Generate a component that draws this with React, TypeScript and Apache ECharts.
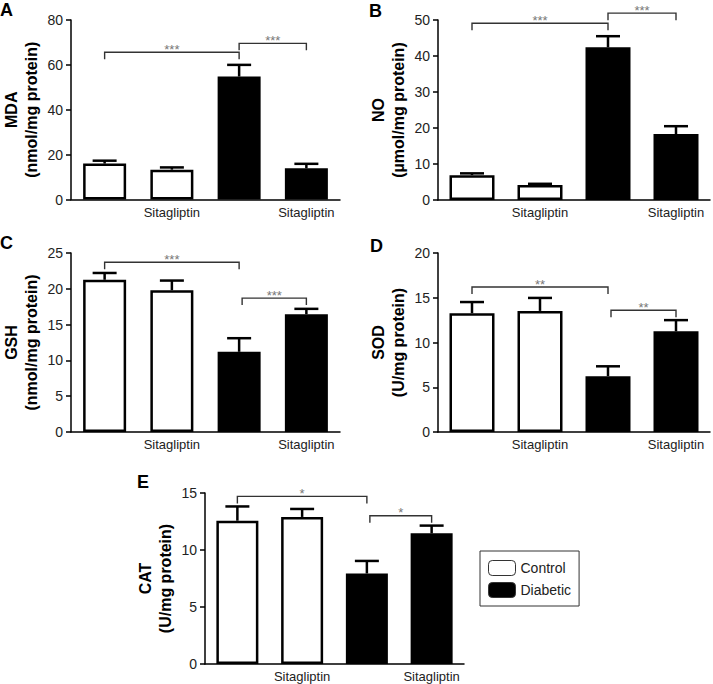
import React, { useEffect, useRef } from "react";
import * as echarts from "echarts";

// ---------- data ----------
const categories = ["", "Sitagliptin", "", "Sitagliptin"];
const groupNames = ["Control", "Diabetic"];
// which categories belong to each group
const controlIdx = [0, 1];
const diabeticIdx = [2, 3];

const mdaMean = [16.0, 13.3, 54.8, 13.9];
const mdaErr = [1.3, 1.0, 5.2, 2.0];
const noMean = [6.9, 4.2, 42.4, 18.3];
const noErr = [0.5, 0.3, 3.1, 2.2];
const gshMean = [21.26, 19.8, 11.2, 16.45];
const gshErr = [0.95, 1.35, 1.9, 0.75];
const sodMean = [13.27, 13.53, 6.24, 11.25];
const sodErr = [1.25, 1.45, 1.1, 1.25];
const catMean = [12.57, 12.9, 7.94, 11.46];
const catErr = [1.25, 0.7, 1.1, 0.68];

// significance brackets: [fromCategory, toCategory, bracketTopValue]
const mdaBrackets = [[0, 2, 65.6], [2, 3, 69.6]];
const mdaStars = ["***", "***"];
const noBrackets = [[0, 2, 49.1], [2, 3, 51.9]];
const noStars = ["***", "***"];
const gshBrackets = [[0, 2, 23.7], [2, 3, 18.7]];
const gshStars = ["***", "***"];
const sodBrackets = [[0, 2, 16.2], [2, 3, 13.6]];
const sodStars = ["**", "**"];
const catBrackets = [[0, 2, 14.7], [2, 3, 13.0]];
const catStars = ["*", "*"];

const panelLetters = ["A", "B", "C", "D", "E"];
const yTitles = [
  "MDA\n(nmol/mg protein)",
  "NO\n(µmol/mg protein)",
  "GSH\n(nmol/mg protein)",
  "SOD\n(U/mg protein)",
  "CAT\n(U/mg protein)",
];
const yMax = [80, 50, 25, 20, 15];
const yStep = [20, 10, 5, 5, 5];

// ---------- layout / style ----------
const FONT = "'Liberation Sans', Arial, Helvetica, sans-serif";
const grids = [
  { left: 70, top: 20, width: 270, height: 179.5 },
  { left: 438, top: 20, width: 272, height: 180 },
  { left: 70, top: 253, width: 270, height: 179 },
  { left: 438, top: 253, width: 272, height: 179 },
  { left: 205, top: 493, width: 259, height: 171 },
];
const barWidths = [43, 45, 43, 45, 42];
const letterPos = [
  [0, 1],
  [369, 2],
  [0, 234],
  [370, 237],
  [137, 473],
];

export default function App() {
  const ref = useRef<HTMLDivElement>(null);

  useEffect(() => {
    if (!ref.current) return;
    const chart = echarts.init(ref.current, null, { renderer: "svg" });

    const means = [mdaMean, noMean, gshMean, sodMean, catMean];
    const errs = [mdaErr, noErr, gshErr, sodErr, catErr];
    const brackets = [mdaBrackets, noBrackets, gshBrackets, sodBrackets, catBrackets];
    const stars = [mdaStars, noStars, gshStars, sodStars, catStars];

    const xAxis: any[] = [];
    const yAxis: any[] = [];
    const series: any[] = [];

    means.forEach((m, p) => {
      xAxis.push({
        type: "category",
        gridIndex: p,
        data: categories,
        axisLine: { lineStyle: { color: "#000", width: 1.5 } },
        axisTick: { show: false },
        axisLabel: {
          interval: 0,
          margin: 6,
          color: "#222",
          fontSize: 13,
          fontFamily: FONT,
        },
      });
      yAxis.push({
        type: "value",
        gridIndex: p,
        min: 0,
        max: yMax[p],
        interval: yStep[p],
        splitLine: { show: false },
        axisLine: { show: true, lineStyle: { color: "#000", width: 1.5 } },
        axisTick: { show: true, length: 5, lineStyle: { color: "#000", width: 1.5 } },
        axisLabel: { color: "#222", fontSize: 14, margin: 8, fontFamily: FONT },
        name: yTitles[p],
        nameLocation: "middle",
        nameRotate: 90,
        nameGap: 30,
        nameTextStyle: {
          fontSize: 16,
          fontWeight: "bold",
          lineHeight: 20,
          color: "#000",
          fontFamily: FONT,
        },
      });
      series.push({
        type: "bar",
        name: groupNames[0],
        xAxisIndex: p,
        yAxisIndex: p,
        barWidth: barWidths[p],
        barGap: "-100%",
        data: m.map((v, i) => (controlIdx.includes(i) ? v : "-")),
        itemStyle: { color: "#fff", borderColor: "#000", borderWidth: 2.5 },
      });
      series.push({
        type: "bar",
        name: groupNames[1],
        xAxisIndex: p,
        yAxisIndex: p,
        barWidth: barWidths[p],
        barGap: "-100%",
        data: m.map((v, i) => (diabeticIdx.includes(i) ? v : "-")),
        itemStyle: { color: "#000", borderColor: "#000", borderWidth: 2.5 },
      });
      series.push({
        type: "custom",
        xAxisIndex: p,
        yAxisIndex: p,
        z: 5,
        data: m.map((v, i) => [i, v, v + errs[p][i]]),
        renderItem: (params: any, api: any) => {
          const x = api.value(0);
          const lo = api.coord([x, api.value(1)]);
          const hi = api.coord([x, api.value(2)]);
          const st = { stroke: "#000", lineWidth: 2.5, fill: "none" };
          return {
            type: "group",
            children: [
              { type: "line", shape: { x1: lo[0], y1: lo[1], x2: hi[0], y2: hi[1] }, style: st },
              { type: "line", shape: { x1: hi[0] - 12, y1: hi[1], x2: hi[0] + 12, y2: hi[1] }, style: st },
            ],
          };
        },
      });
      const lbls = stars[p];
      series.push({
        type: "custom",
        xAxisIndex: p,
        yAxisIndex: p,
        z: 6,
        clip: false,
        data: brackets[p],
        renderItem: (params: any, api: any) => {
          const a = api.coord([api.value(0), api.value(2)]);
          const b = api.coord([api.value(1), api.value(2)]);
          const shift = params.dataIndex === 1 && p >= 2 ? 3 : 0;
          const x1 = a[0] + shift;
          const x2 = b[0];
          const y = a[1];
          return {
            type: "group",
            children: [
              {
                type: "polyline",
                shape: { points: [[x1, y + 7], [x1, y], [x2, y], [x2, y + 7]] },
                style: { stroke: "#333", lineWidth: 1.4, fill: "none" },
              },
              {
                type: "text",
                x: (x1 + x2) / 2,
                y: y - 3,
                style: {
                  text: lbls[params.dataIndex],
                  fill: "#777",
                  fontSize: 13,
                  fontFamily: FONT,
                  align: "center",
                  verticalAlign: "middle",
                },
              },
            ],
          };
        },
      });
    });

    const graphic = panelLetters.map((t, i) => ({
      type: "text",
      x: letterPos[i][0],
      y: letterPos[i][1],
      style: {
        text: t,
        fill: "#000",
        fontSize: 18,
        fontWeight: "bold",
        fontFamily: FONT,
      },
    }));

    chart.setOption({
      animation: false,
      backgroundColor: "#fff",
      grid: grids.map((g) => ({ ...g, containLabel: false })),
      xAxis,
      yAxis,
      series,
      graphic,
      legend: {
        data: groupNames,
        orient: "vertical",
        left: 480,
        top: 551,
        itemWidth: 27,
        itemHeight: 15,
        itemGap: 6,
        padding: [9, 8, 8, 8],
        borderColor: "#333",
        borderWidth: 1,
        itemStyle: { borderWidth: 1, borderColor: "#333" },
        textStyle: { fontSize: 14, color: "#222", fontFamily: FONT },
        selectedMode: false,
      },
    });

    return () => chart.dispose();
  }, []);

  return (
    <div
      ref={ref}
      style={{ position: "fixed", left: 0, top: 0, width: 713, height: 684, background: "#fff" }}
    />
  );
}
